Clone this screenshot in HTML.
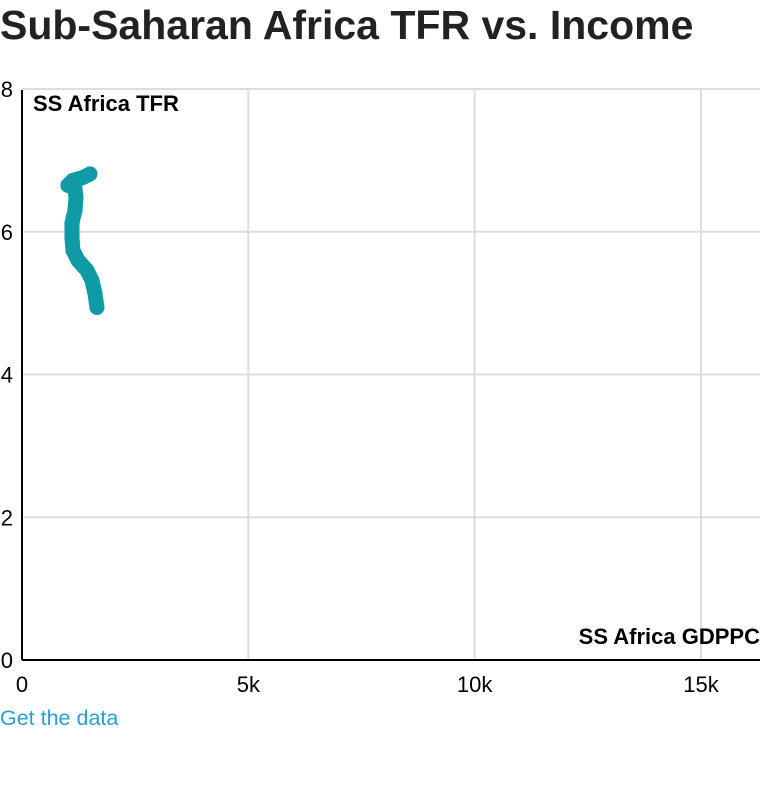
<!DOCTYPE html>
<html><head><meta charset="utf-8"><style>
body{margin:0;background:#fff;width:780px;height:780px;overflow:hidden;font-family:"Liberation Sans",sans-serif}
</style></head><body>
<svg width="780" height="780" font-family="Liberation Sans, sans-serif">
<text x="0" y="39" font-size="41" font-weight="bold" fill="#222">Sub-Saharan Africa TFR vs. Income</text>
<g id="grid"></g>
<g id="series"></g>
<line x1="22" y1="90" x2="22" y2="660" stroke="#000" stroke-width="2"/>
<line x1="22" y1="660" x2="760" y2="660" stroke="#000" stroke-width="2"/>
<text x="33" y="111" font-size="22" font-weight="bold" fill="#000">SS Africa TFR</text>
<text x="760" y="644" font-size="22" font-weight="bold" fill="#000" text-anchor="end">SS Africa GDPPC</text>
<text x="0" y="725" font-size="21.5" fill="#2a9fd0">Get the data</text>
</svg>
<script>
const gdppc=[1501,1347,1126,1015,1170,1192,1170,1104,1104,1126,1236,1435,1545,1611,1656];
const tfr=[6.81,6.76,6.72,6.65,6.61,6.48,6.30,6.12,5.92,5.74,5.60,5.46,5.32,5.14,4.94];
const xTicks=[0,5000,10000,15000];
const xTickLabels=["0","5k","10k","15k"];
const yTicks=[0,2,4,6,8];
const yTickLabels=["0","2","4","6","8"];
const NS="http://www.w3.org/2000/svg";
const x=v=>22+v*(679/15000);
const y=v=>660-v*(571/8);
const grid=document.getElementById('grid');
function mk(t,a,p){const e=document.createElementNS(NS,t);for(const k in a)e.setAttribute(k,a[k]);p.appendChild(e);return e;}
xTicks.forEach((v,i)=>{
 if(v>0){const l=mk('line',{x1:x(v),x2:x(v),y1:90,y2:660,stroke:'#ddd','stroke-width':2},grid);
 
 }
 const t=mk('text',{x:x(v),y:692,'font-size':22,'text-anchor':'middle',fill:'#000'},grid);
 t.textContent=xTickLabels[i];
 
 
});
yTicks.forEach((v,i)=>{
 if(v>0){const l=mk('line',{x1:22,x2:760,y1:y(v),y2:y(v),stroke:'#ddd','stroke-width':2},grid);
 
 }
 const t=mk('text',{x:13,y:y(v)+8,'font-size':22,'text-anchor':'end',fill:'#000'},grid);
 t.textContent=yTickLabels[i];
 
 
});
const s=document.getElementById('series');
const pl=mk('polyline',{points:gdppc.map((g,i)=>x(g)+','+y(tfr[i])).join(' '),fill:'none',stroke:'#0f9aa6','stroke-width':15,'stroke-linejoin':'round','stroke-linecap':'round'},s);


gdppc.forEach((g,i)=>{
 const c=mk('circle',{cx:x(g),cy:y(tfr[i]),r:7.5,fill:'#0f9aa6'},s);
 
 
});
</script>
</body></html>
